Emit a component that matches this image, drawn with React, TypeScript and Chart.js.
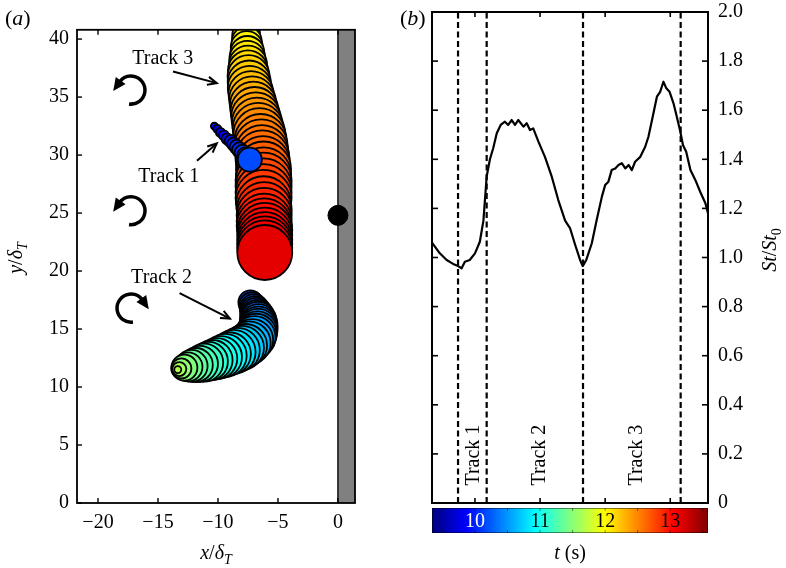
import React, { useEffect, useRef } from 'react';
import { Chart, registerables } from 'chart.js';

Chart.register(...registerables);

const SERIF = '"Liberation Serif", "Times New Roman", Times, serif';
const FS = 20;

// time span covered by the colour bar (s)
const T_MIN = 9.34;
const T_MAX = 13.58;

// ---- panel (a): vortex tracks, x/δT, y/δT, marker radius, time (s) ----
const track1Time = [9.74, 9.78, 9.82, 9.86, 9.9, 9.94, 9.98, 10.02, 10.06, 10.1, 10.14, 10.18];
const track1X = [-10.3, -10.05, -9.8, -9.5, -9.25, -8.95, -8.7, -8.45, -8.2, -7.95, -7.7, -7.35];
const track1Y = [32.5, 32.25, 31.95, 31.7, 31.4, 31.2, 30.95, 30.7, 30.45, 30.2, 29.95, 29.6];
const track1Size = [3.5, 4, 4.5, 5, 5.5, 6, 6.5, 7, 7.5, 8, 8.5, 12];

const track2Time = [10.18, 10.21, 10.24, 10.27, 10.3, 10.33, 10.36, 10.39, 10.42, 10.45, 10.48, 10.51, 10.54, 10.58, 10.62, 10.67, 10.72, 10.77, 10.82, 10.87, 10.92, 10.97, 11.02, 11.07, 11.12, 11.17, 11.22, 11.28, 11.34, 11.4, 11.47, 11.54, 11.6, 11.66];
const track2X = [-7.3, -7.15, -7.0, -6.9, -6.8, -6.72, -6.66, -6.62, -6.62, -6.66, -6.72, -6.82, -6.95, -7.15, -7.4, -7.7, -8.0, -8.35, -8.7, -9.05, -9.4, -9.75, -10.1, -10.45, -10.8, -11.15, -11.5, -11.85, -12.2, -12.5, -12.8, -13.05, -13.22, -13.35];
const track2Y = [17.3, 17.05, 16.8, 16.55, 16.3, 16.05, 15.8, 15.55, 15.3, 15.05, 14.8, 14.55, 14.3, 14.05, 13.8, 13.58, 13.38, 13.2, 13.03, 12.87, 12.72, 12.58, 12.45, 12.33, 12.21, 12.1, 12.0, 11.9, 11.82, 11.74, 11.67, 11.6, 11.55, 11.5];
const track2Size = [12, 13, 14, 15, 16, 17, 18, 18.5, 19, 19.5, 20, 20.5, 21, 21, 21.5, 21.5, 22, 22, 22, 21.5, 21.5, 21, 20.5, 20, 19.5, 19, 18, 17, 16, 14.5, 13, 10, 7, 3.5];

// track 3 enters from above the field of view
const track3Time = [11.66, 11.7, 11.74, 11.78, 11.82, 11.86, 11.9, 11.94, 11.97, 12.0, 12.03, 12.06, 12.09, 12.12, 12.15, 12.18, 12.21, 12.24, 12.27, 12.3, 12.33, 12.36, 12.39, 12.42, 12.45, 12.48, 12.51, 12.54, 12.57, 12.6, 12.63, 12.66, 12.69, 12.72, 12.75, 12.78, 12.81, 12.84, 12.87, 12.9, 12.93, 12.96, 12.99, 13.02, 13.06, 13.09, 13.12, 13.16];
const track3X = [-7.8, -7.8, -7.75, -7.75, -7.7, -7.7, -7.7, -7.65, -7.65, -7.6, -7.6, -7.55, -7.55, -7.5, -7.5, -7.45, -7.4, -7.35, -7.25, -7.15, -7.05, -6.95, -6.85, -6.75, -6.65, -6.55, -6.45, -6.4, -6.35, -6.3, -6.25, -6.2, -6.2, -6.2, -6.2, -6.2, -6.2, -6.2, -6.15, -6.15, -6.15, -6.15, -6.1, -6.1, -6.1, -6.1, -6.1, -6.1];
const track3Y = [44.3, 43.8, 43.3, 42.8, 42.3, 41.8, 41.3, 40.8, 40.3, 39.8, 39.3, 38.8, 38.3, 37.8, 37.3, 36.8, 36.3, 35.8, 35.3, 34.8, 34.3, 33.8, 33.3, 32.8, 32.3, 31.8, 31.3, 30.8, 30.3, 29.8, 29.3, 28.8, 28.3, 27.8, 27.3, 26.8, 26.3, 25.8, 25.3, 24.8, 24.3, 23.9, 23.5, 23.1, 22.7, 22.35, 22.0, 21.6];
const track3Size = [10, 10.5, 11, 11.5, 12, 12.5, 13, 13.5, 14, 15, 16, 17, 18, 19, 20, 21, 21.5, 22, 22.5, 23, 23.5, 24, 24.5, 25, 25.5, 26, 26, 26.5, 26.5, 27, 27, 27.5, 27.5, 28, 28, 28, 28, 27.5, 27.5, 27.5, 27.5, 27.5, 27.5, 27.5, 27.5, 27.5, 27.5, 27.5];

// wall-attached vortex and wall position
const wallX = [0];
const wallY = [24.8];
const wallSize = [10];
const WALL_EDGE = 0;

// track labels with their arrows (data units)
const trackTags = [
  { name: 'Track 3', at: [-14.6, 38.3], from: [-13.75, 37.2], to: [-10.1, 36.2] },
  { name: 'Track 1', at: [-14.1, 28.1], from: [-11.75, 29.5], to: [-10.1, 31.0] },
  { name: 'Track 2', at: [-14.7, 19.4], from: [-13.2, 18.1], to: [-9.0, 15.9] },
];
// rotation sense markers
const spins = [
  { x: -17.25, y: 35.6, ccw: true },
  { x: -17.25, y: 25.2, ccw: true },
  { x: -17.25, y: 16.8, ccw: false },
];

// ---- panel (b): Strouhal number ratio vs time ----
const stTime = [9.34, 9.46, 9.565, 9.665, 9.74, 9.795, 9.845, 9.92, 10.0, 10.075, 10.13, 10.18, 10.23, 10.28, 10.335, 10.395, 10.46, 10.51, 10.565, 10.615, 10.665, 10.745, 10.795, 10.845, 10.895, 10.975, 11.075, 11.18, 11.28, 11.385, 11.46, 11.54, 11.615, 11.655, 11.71, 11.795, 11.87, 11.95, 12.0, 12.05, 12.1, 12.155, 12.205, 12.255, 12.31, 12.36, 12.41, 12.46, 12.54, 12.615, 12.665, 12.72, 12.795, 12.845, 12.895, 12.94, 12.99, 13.05, 13.1, 13.155, 13.195, 13.245, 13.31, 13.385, 13.46, 13.54, 13.58];
const stRatio = [1.06, 1.017, 0.99, 0.974, 0.965, 0.956, 0.983, 0.99, 1.017, 1.064, 1.15, 1.33, 1.4, 1.445, 1.506, 1.54, 1.553, 1.54, 1.56, 1.54, 1.56, 1.533, 1.547, 1.519, 1.526, 1.472, 1.41, 1.329, 1.234, 1.15, 1.12, 1.051, 0.99, 0.965, 0.99, 1.058, 1.153, 1.248, 1.295, 1.309, 1.356, 1.363, 1.377, 1.384, 1.363, 1.377, 1.356, 1.39, 1.41, 1.451, 1.492, 1.56, 1.655, 1.675, 1.716, 1.689, 1.675, 1.628, 1.574, 1.512, 1.458, 1.431, 1.356, 1.316, 1.268, 1.221, 1.18];
const trackBounds = [9.74, 10.18, 11.66, 13.16];
const trackNames = ['Track 1', 'Track 2', 'Track 3'];
const trackLabelAt = [9.985, 10.99, 12.485];
const TRACK_LABEL_LEVEL = 0.195;
const colorbarTicks = [10, 11, 12, 13];
const colorbarMinor = [9.5, 10, 10.5, 11, 11.5, 12, 12.5, 13, 13.5];

function jet(v: number): string {
  const c = (q: number) => Math.max(0, Math.min(1, q));
  const r = c(1.5 - Math.abs(4 * v - 3));
  const g = c(1.5 - Math.abs(4 * v - 2));
  const b = c(1.5 - Math.abs(4 * v - 1));
  return `rgb(${Math.round(r * 255)},${Math.round(g * 255)},${Math.round(b * 255)})`;
}
const timeColor = (t: number) => jet((t - T_MIN) / (T_MAX - T_MIN));

type Run = { s: string; it?: boolean; sub?: boolean };
function drawRich(ctx: CanvasRenderingContext2D, runs: Run[], x: number, y: number, align: 'center' | 'left' = 'center', size = FS) {
  const runFont = (r: Run) => `${r.it ? 'italic ' : ''}${r.sub ? Math.round(size * 0.7) : size}px ${SERIF}`;
  ctx.textBaseline = 'alphabetic';
  ctx.textAlign = 'left';
  const ws = runs.map((r) => {
    ctx.font = runFont(r);
    return ctx.measureText(r.s).width;
  });
  let cx = align === 'center' ? x - ws.reduce((a, b) => a + b, 0) / 2 : x;
  runs.forEach((r, i) => {
    ctx.font = runFont(r);
    ctx.fillText(r.s, cx, r.sub ? y + 5 : y);
    cx += ws[i];
  });
}

function seg(ctx: CanvasRenderingContext2D, x1: number, y1: number, x2: number, y2: number) {
  ctx.beginPath();
  ctx.moveTo(x1, y1);
  ctx.lineTo(x2, y2);
  ctx.stroke();
}

function arrow(ctx: CanvasRenderingContext2D, x1: number, y1: number, x2: number, y2: number) {
  const a = Math.atan2(y2 - y1, x2 - x1);
  ctx.lineWidth = 2;
  seg(ctx, x1, y1, x2, y2);
  const h = 10;
  const s = 0.42;
  ctx.beginPath();
  ctx.moveTo(x2 - h * Math.cos(a - s), y2 - h * Math.sin(a - s));
  ctx.lineTo(x2, y2);
  ctx.lineTo(x2 - h * Math.cos(a + s), y2 - h * Math.sin(a + s));
  ctx.stroke();
}

function spin(ctx: CanvasRenderingContext2D, cx: number, cy: number, ccw: boolean) {
  const r = 14;
  const d = Math.PI / 180;
  const start = (ccw ? 98 : 82) * d;
  const end = (ccw ? 215 : 325) * d;
  ctx.lineWidth = 3.5;
  ctx.beginPath();
  ctx.arc(cx, cy, r, start, end, ccw);
  ctx.stroke();
  const ex = cx + r * Math.cos(end);
  const ey = cy + r * Math.sin(end);
  const tx = ccw ? Math.sin(end) : -Math.sin(end);
  const ty = ccw ? -Math.cos(end) : Math.cos(end);
  const nx = Math.cos(end);
  const ny = Math.sin(end);
  ctx.beginPath();
  ctx.moveTo(ex + tx * 11, ey + ty * 11);
  ctx.lineTo(ex + nx * 6 - tx * 2, ey + ny * 6 - ty * 2);
  ctx.lineTo(ex - nx * 6 - tx * 2, ey - ny * 6 - ty * 2);
  ctx.closePath();
  ctx.fill();
}

const fixBox = (w?: number, h?: number) => (s: any) => {
  if (w != null) s.width = w;
  if (h != null) s.height = h;
  s.paddingTop = 0;
  s.paddingBottom = 0;
  s.paddingLeft = 0;
  s.paddingRight = 0;
};

const tickFont = { family: SERIF, size: FS };

function bubbleSet(label: string, ts: number[], xs: number[], ys: number[], rs: number[]) {
  return {
    label,
    data: xs.map((x, i) => ({ x, y: ys[i], r: rs[i] })),
    backgroundColor: ts.map(timeColor),
    borderColor: '#000',
    borderWidth: 1.8,
    clip: 0,
  };
}

const leftDecor = {
  id: 'leftDecor',
  beforeDatasetsDraw(chart: any) {
    const { ctx, chartArea: a, scales } = chart;
    const x0 = scales.x.getPixelForValue(WALL_EDGE);
    ctx.save();
    ctx.fillStyle = '#808080';
    ctx.fillRect(x0, a.top, a.right - x0, a.bottom - a.top);
    ctx.strokeStyle = '#1a1a1a';
    ctx.lineWidth = 1.6;
    seg(ctx, x0, a.top, x0, a.bottom);
    ctx.restore();
  },
  afterDatasetsDraw(chart: any) {
    const { ctx, chartArea: a, scales } = chart;
    const { x, y } = scales;
    ctx.save();
    ctx.strokeStyle = '#000';
    ctx.fillStyle = '#000';
    ctx.lineWidth = 1.8;
    ctx.strokeRect(a.left, a.top, a.right - a.left, a.bottom - a.top);
    ctx.lineWidth = 1.4;
    x.ticks.forEach((tk: any) => {
      const px = x.getPixelForValue(tk.value);
      seg(ctx, px, a.bottom, px, a.bottom - 5);
      seg(ctx, px, a.top, px, a.top + 5);
    });
    y.ticks.forEach((tk: any) => {
      const py = y.getPixelForValue(tk.value);
      seg(ctx, a.left, py, a.left + 5, py);
    });

    // track labels and arrows
    ctx.font = `${FS}px ${SERIF}`;
    ctx.textAlign = 'center';
    ctx.textBaseline = 'middle';
    trackTags.forEach((t) => {
      ctx.fillText(t.name, x.getPixelForValue(t.at[0]), y.getPixelForValue(t.at[1]));
      arrow(
        ctx,
        x.getPixelForValue(t.from[0]),
        y.getPixelForValue(t.from[1]),
        x.getPixelForValue(t.to[0]),
        y.getPixelForValue(t.to[1])
      );
    });
    spins.forEach((s) => spin(ctx, x.getPixelForValue(s.x), y.getPixelForValue(s.y), s.ccw));

    // axis titles and panel tag
    drawRich(ctx, [{ s: 'x', it: true }, { s: '/' }, { s: 'δ', it: true }, { s: 'T', it: true, sub: true }], (a.left + a.right) / 2, 559);
    ctx.save();
    ctx.translate(22, 258);
    ctx.rotate(-Math.PI / 2);
    drawRich(ctx, [{ s: 'y', it: true }, { s: '/' }, { s: 'δ', it: true }, { s: 'T', it: true, sub: true }], 0, 0);
    ctx.restore();
    drawRich(ctx, [{ s: '(' }, { s: 'a', it: true }, { s: ')' }], 5, 25, 'left', 22);
    ctx.restore();
  },
};

const rightDecor = {
  id: 'rightDecor',
  afterDatasetsDraw(chart: any) {
    const { ctx, chartArea: a, scales } = chart;
    const { x, y } = scales;
    ctx.save();
    ctx.strokeStyle = '#000';
    ctx.fillStyle = '#000';
    ctx.lineWidth = 2;
    ctx.strokeRect(a.left, a.top, a.right - a.left, a.bottom - a.top);
    ctx.lineWidth = 1.6;
    y.ticks.forEach((tk: any) => {
      const py = y.getPixelForValue(tk.value);
      seg(ctx, a.left, py, a.left + 6, py);
      seg(ctx, a.right - 6, py, a.right, py);
    });
    colorbarTicks.forEach((t) => {
      const px = x.getPixelForValue(t);
      seg(ctx, px, a.top, px, a.top + 5);
      seg(ctx, px, a.bottom, px, a.bottom - 5);
    });

    // rotated track names
    ctx.font = `${FS}px ${SERIF}`;
    ctx.textAlign = 'center';
    ctx.textBaseline = 'middle';
    trackNames.forEach((n, i) => {
      ctx.save();
      ctx.translate(x.getPixelForValue(trackLabelAt[i]), y.getPixelForValue(TRACK_LABEL_LEVEL));
      ctx.rotate(-Math.PI / 2);
      ctx.fillText(n, 0, 0);
      ctx.restore();
    });

    // colour bar
    const top = a.bottom + 5;
    const h = 25;
    const grad = ctx.createLinearGradient(x.getPixelForValue(T_MIN), 0, x.getPixelForValue(T_MAX), 0);
    for (let i = 0; i <= 64; i++) grad.addColorStop(i / 64, jet(i / 64));
    ctx.fillStyle = grad;
    ctx.fillRect(a.left, top, a.right - a.left, h);
    ctx.strokeStyle = 'rgba(0,0,0,0.45)';
    ctx.lineWidth = 1;
    ctx.strokeRect(a.left + 0.5, top + 0.5, a.right - a.left - 1, h - 1);
    colorbarMinor.forEach((t) => {
      const px = x.getPixelForValue(t);
      seg(ctx, px, top, px, top + 3);
      seg(ctx, px, top + h - 3, px, top + h);
    });
    ctx.font = `${FS}px ${SERIF}`;
    ctx.textAlign = 'center';
    ctx.textBaseline = 'middle';
    colorbarTicks.forEach((t) => {
      ctx.fillStyle = t <= 10 ? '#fff' : '#000';
      ctx.fillText(String(t), x.getPixelForValue(t), top + h / 2 + 1);
    });

    ctx.fillStyle = '#000';
    drawRich(ctx, [{ s: 't', it: true }, { s: ' (s)' }], (a.left + a.right) / 2, 559);
    ctx.save();
    ctx.translate(383, 250);
    ctx.rotate(-Math.PI / 2);
    drawRich(ctx, [{ s: 'St', it: true }, { s: '/' }, { s: 'St', it: true }, { s: '0', sub: true }], 0, 0);
    ctx.restore();
    drawRich(ctx, [{ s: '(' }, { s: 'b', it: true }, { s: ')' }], 7, 25, 'left', 22);
    ctx.restore();
  },
};

function leftConfig(): any {
  return {
    type: 'bubble',
    data: {
      datasets: [
        bubbleSet('Track 1', track1Time, track1X, track1Y, track1Size),
        bubbleSet('Track 3', track3Time, track3X, track3Y, track3Size),
        bubbleSet('Track 2', track2Time, track2X, track2Y, track2Size),
        {
          label: 'wall',
          data: wallX.map((x, i) => ({ x, y: wallY[i], r: wallSize[i] })),
          backgroundColor: '#000',
          borderColor: '#000',
          borderWidth: 1,
          clip: 0,
        },
      ],
    },
    options: {
      responsive: false,
      animation: false,
      events: [],
      layout: { padding: { left: 0, right: 38, top: 12, bottom: 0 } },
      plugins: { legend: { display: false }, tooltip: { enabled: false } },
      scales: {
        x: {
          type: 'linear',
          min: -21.75,
          max: 1.42,
          grid: { display: false, drawTicks: false },
          border: { display: false },
          ticks: {
            stepSize: 5,
            includeBounds: false,
            padding: 8,
            color: '#000',
            font: tickFont,
            maxRotation: 0,
            minRotation: 0,
            autoSkip: false,
            callback: (v: number) => (v < 0 ? '\u2212' + Math.abs(v) : String(v)),
          },
          afterFit: fixBox(undefined, 65),
        },
        y: {
          type: 'linear',
          min: 0,
          max: 40.8,
          grid: { display: false, drawTicks: false },
          border: { display: false },
          ticks: { stepSize: 5, includeBounds: false, padding: 8, color: '#000', font: tickFont },
          afterFit: fixBox(77, undefined),
        },
      },
    },
    plugins: [leftDecor],
  };
}

function rightConfig(): any {
  return {
    type: 'line',
    data: {
      datasets: [
        {
          label: 'St/St0',
          data: stTime.map((t, i) => ({ x: t, y: stRatio[i] })),
          borderColor: '#000',
          borderWidth: 2.2,
          pointRadius: 0,
          tension: 0,
          borderJoinStyle: 'round',
        },
        ...trackBounds.map((t) => ({
          label: 'bound',
          data: [
            { x: t, y: 0 },
            { x: t, y: 2 },
          ],
          borderColor: '#000',
          borderWidth: 2.2,
          borderDash: [6, 3.5],
          pointRadius: 0,
        })),
      ],
    },
    options: {
      responsive: false,
      animation: false,
      events: [],
      layout: { padding: { left: 39, right: 0, top: 12, bottom: 0 } },
      plugins: { legend: { display: false }, tooltip: { enabled: false } },
      scales: {
        x: {
          type: 'linear',
          min: T_MIN,
          max: T_MAX,
          grid: { display: false, drawTicks: false },
          border: { display: false },
          ticks: { display: false },
          afterFit: fixBox(undefined, 65),
        },
        y: {
          type: 'linear',
          position: 'right',
          min: 0,
          max: 2,
          grid: { display: false, drawTicks: false },
          border: { display: false },
          ticks: {
            stepSize: 0.2,
            padding: 10,
            color: '#000',
            font: tickFont,
            callback: (v: number) => (v === 0 ? '0' : Number(v).toFixed(1)),
          },
          afterFit: fixBox(78, undefined),
        },
      },
    },
    plugins: [rightDecor],
  };
}

export default function App() {
  const leftRef = useRef<HTMLCanvasElement>(null);
  const rightRef = useRef<HTMLCanvasElement>(null);

  useEffect(() => {
    const left = new Chart(leftRef.current as HTMLCanvasElement, leftConfig());
    const right = new Chart(rightRef.current as HTMLCanvasElement, rightConfig());
    return () => {
      left.destroy();
      right.destroy();
    };
  }, []);

  return (
    <div style={{ position: 'fixed', left: 0, top: 0, width: 786, height: 568, background: '#fff', overflow: 'hidden' }}>
      <canvas ref={leftRef} width={393} height={568} style={{ position: 'absolute', left: 0, top: 0 }} />
      <canvas ref={rightRef} width={393} height={568} style={{ position: 'absolute', left: 393, top: 0 }} />
    </div>
  );
}
